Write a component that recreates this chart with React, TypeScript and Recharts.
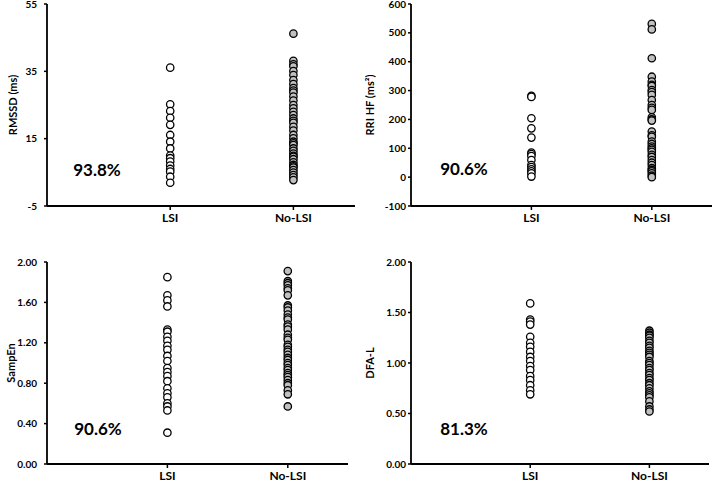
import React from 'react';
import { ScatterChart, Scatter, XAxis, YAxis } from 'recharts';

const GROUPS = ['LSI', 'No-LSI'];

// RMSSD (ms)
const rmssdLsi = [36.1, 25.2, 23.2, 21.2, 19.1, 16.1, 14.1, 12.1, 10.0, 9.2, 8.2, 7.0, 6.0, 5.2, 3.7, 1.9];
const rmssdNoLsi = [
  46.2, 38.1, 37.1, 36.5, 35.1, 33.9, 32.4, 31.2, 30.0, 29.3, 28.7, 27.5, 26.3, 25.0, 24.0, 23.0,
  22.0, 21.0, 20.3, 19.7, 18.5, 17.4, 16.1, 15.1, 14.1, 13.6, 13.1, 12.1, 11.4, 10.6, 9.9, 9.6,
  8.9, 8.0, 7.2, 6.8, 6.4, 5.7, 4.9, 4.2, 3.5, 2.7,
];

// RRI HF (ms²)
const hfLsi = [282, 278, 204, 169, 137, 85, 80, 73, 59, 42, 35, 27, 20, 13, 2];
const hfNoLsi = [
  531, 512, 412, 348, 331, 320, 316, 302, 295, 285, 267, 250, 240, 233, 207, 200, 196, 158, 145,
  140, 123, 115, 106, 100, 95, 88, 77, 70, 59, 50, 42, 31, 25, 20, 13, 5, 0,
];

// SampEn
const sampEnLsi = [
  1.85, 1.67, 1.62, 1.56, 1.33, 1.31, 1.26, 1.22, 1.17, 1.13, 1.07, 1.02, 0.95, 0.91, 0.87, 0.82,
  0.75, 0.7, 0.66, 0.6, 0.57, 0.53, 0.31,
];
const sampEnNoLsi = [
  1.91, 1.81, 1.79, 1.77, 1.74, 1.72, 1.67, 1.57, 1.55, 1.52, 1.48, 1.45, 1.43, 1.38, 1.36, 1.33,
  1.28, 1.25, 1.23, 1.18, 1.16, 1.13, 1.11, 1.08, 1.05, 1.03, 1.0, 0.98, 0.95, 0.93, 0.9, 0.88,
  0.86, 0.83, 0.8, 0.78, 0.73, 0.69, 0.57,
];

// DFA-L
const dfaLsi = [1.59, 1.43, 1.41, 1.38, 1.26, 1.2, 1.16, 1.11, 1.06, 1.02, 0.97, 0.93, 0.87, 0.83, 0.78, 0.73, 0.69];
const dfaNoLsi = [
  1.32, 1.3, 1.28, 1.27, 1.25, 1.22, 1.2, 1.17, 1.15, 1.12, 1.1, 1.08, 1.06, 1.02, 1.0, 0.98, 0.95,
  0.93, 0.9, 0.88, 0.85, 0.83, 0.8, 0.78, 0.75, 0.72, 0.7, 0.68, 0.66, 0.62, 0.57, 0.54, 0.52,
];

const FONT = 'Lato, "Open Sans", sans-serif';

const toPoints = (vals: number[], x: number) => vals.map((y) => ({ x, y }));

const dot = (fill: string) => (props: any) => (
  <circle cx={props.cx} cy={props.cy} r={3.7} fill={fill} stroke="#000" strokeWidth={1.3} />
);

interface PanelProps {
  left: number;
  top: number;
  width: number;
  height: number;
  topMargin: number;
  rightMargin: number;
  axisWidth: number;
  tickMargin: number;
  lsi: number[];
  noLsi: number[];
  domain: [number, number];
  ticks: number[];
  digits: number;
  yLabel: string;
  yLabelX: number;
  percent: string;
  pctX: number;
  pctY: number;
}

const Panel: React.FC<PanelProps> = (p) => (
  <div style={{ position: 'absolute', left: p.left, top: p.top, width: p.width, height: p.height }}>
    <ScatterChart width={p.width} height={p.height} margin={{ top: p.topMargin, right: p.rightMargin, left: 0, bottom: 0 }}>
      <XAxis
        type="number"
        dataKey="x"
        domain={[0, 2.5]}
        ticks={[1, 2]}
        tickFormatter={(v) => GROUPS[v - 1]}
        height={34}
        tickSize={4}
        tickMargin={3}
        axisLine={{ stroke: '#000', strokeWidth: 1.8 }}
        tickLine={{ stroke: '#000', strokeWidth: 1.5 }}
        tick={{ fill: '#000', fontSize: 12, fontWeight: 700, fontFamily: FONT }}
      />
      <YAxis
        type="number"
        dataKey="y"
        domain={p.domain}
        ticks={p.ticks}
        interval={0}
        width={p.axisWidth}
        tickSize={3}
        tickMargin={p.tickMargin}
        tickFormatter={(v) => Number(v).toFixed(p.digits)}
        axisLine={{ stroke: '#000', strokeWidth: 1.8 }}
        tickLine={{ stroke: '#000', strokeWidth: 1.5 }}
        tick={{ fill: '#000', fontSize: 10, fontWeight: 700, fontFamily: FONT }}
        label={{
          value: p.yLabel,
          content: ({ viewBox }: any) => {
            const cy = viewBox.y + viewBox.height / 2;
            return (
              <text
                x={p.yLabelX}
                y={cy}
                transform={`rotate(-90, ${p.yLabelX}, ${cy})`}
                textAnchor="middle"
                dominantBaseline="central"
                fill="#000"
                fontSize={11}
                fontWeight={700}
                fontFamily={FONT}
              >
                {p.yLabel}
              </text>
            );
          },
        }}
      />
      <Scatter data={toPoints(p.lsi, 1)} shape={dot('#ffffff')} isAnimationActive={false} />
      <Scatter data={toPoints(p.noLsi, 2)} shape={dot('#c0c0c0')} isAnimationActive={false} />
    </ScatterChart>
    <div
      style={{
        position: 'absolute',
        left: p.pctX,
        top: p.pctY,
        transform: 'translate(-50%, -50%)',
        fontFamily: FONT,
        fontWeight: 700,
        fontSize: 17,
        color: '#000',
        whiteSpace: 'nowrap',
      }}
    >
      {p.percent}
    </div>
  </div>
);

export default function App() {
  return (
    <div style={{ position: 'fixed', left: 0, top: 0, width: 713, height: 483, overflow: 'hidden', background: '#fff' }}>
      <Panel
        left={0} top={0} width={356} height={240} topMargin={4} rightMargin={1} axisWidth={47} tickMargin={7}
        lsi={rmssdLsi} noLsi={rmssdNoLsi} domain={[-5, 55]} ticks={[-5, 15, 35, 55]} digits={0}
        yLabel="RMSSD (ms)" yLabelX={12} percent="93.8%" pctX={97} pctY={169}
      />
      <Panel
        left={356} top={0} width={357} height={240} topMargin={4} rightMargin={1} axisWidth={55} tickMargin={2}
        lsi={hfLsi} noLsi={hfNoLsi} domain={[-100, 600]} ticks={[-100, 0, 100, 200, 300, 400, 500, 600]} digits={0}
        yLabel="RRI HF (ms²)" yLabelX={13} percent="90.6%" pctX={108} pctY={168}
      />
      <Panel
        left={0} top={246} width={356} height={252} topMargin={16} rightMargin={8} axisWidth={47} tickMargin={7}
        lsi={sampEnLsi} noLsi={sampEnNoLsi} domain={[0, 2]} ticks={[0, 0.4, 0.8, 1.2, 1.6, 2]} digits={2}
        yLabel="SampEn" yLabelX={10} percent="90.6%" pctX={98} pctY={182}
      />
      <Panel
        left={356} top={246} width={357} height={252} topMargin={16} rightMargin={4} axisWidth={55} tickMargin={2}
        lsi={dfaLsi} noLsi={dfaNoLsi} domain={[0, 2]} ticks={[0, 0.5, 1, 1.5, 2]} digits={2}
        yLabel="DFA-L" yLabelX={13} percent="81.3%" pctX={108} pctY={182}
      />
    </div>
  );
}
